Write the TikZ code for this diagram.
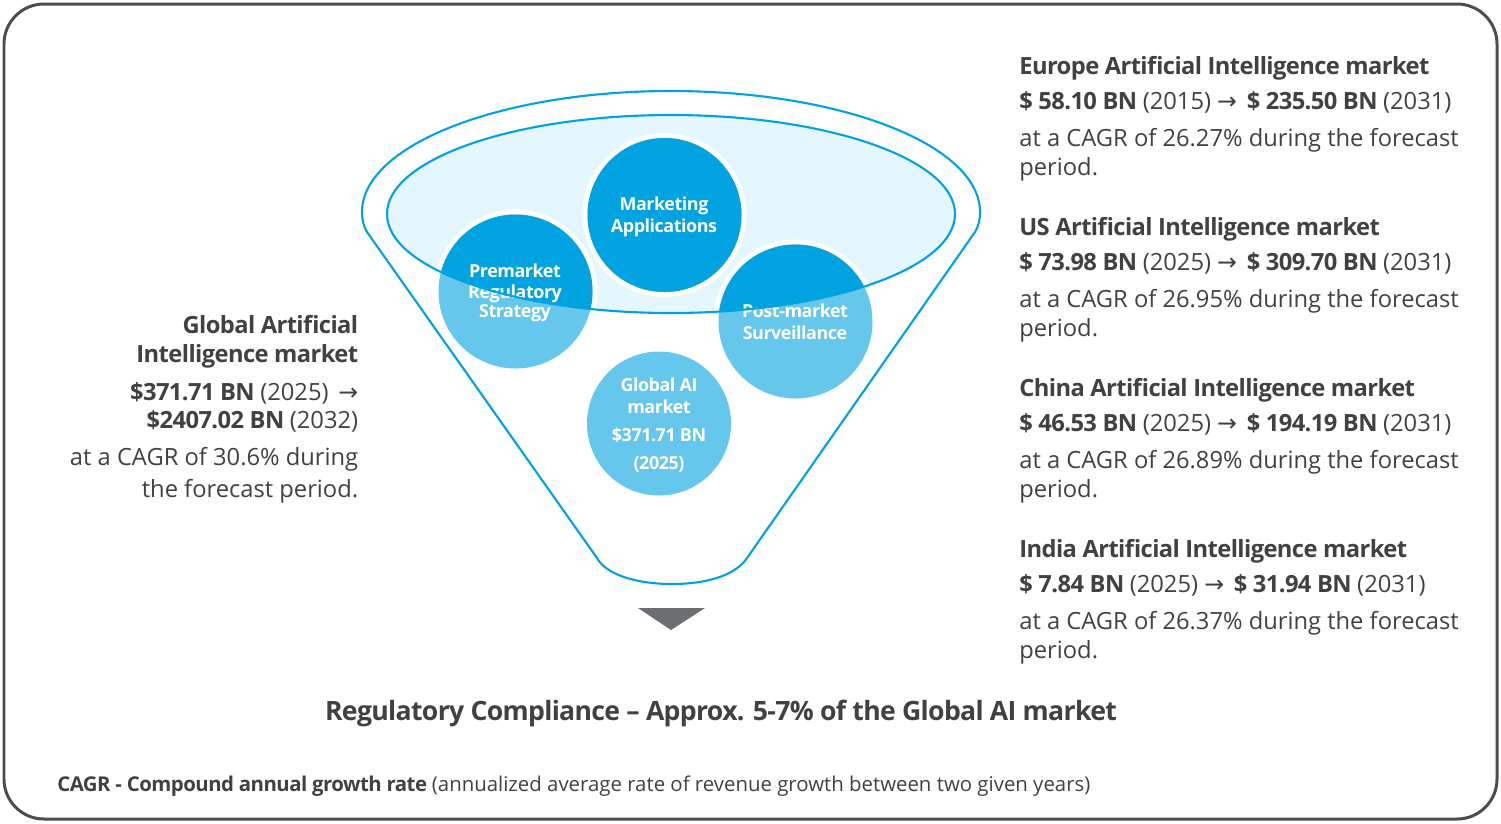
\documentclass[tikz,border=0pt]{standalone}
\usepackage{fontspec}
\setmainfont{Open Sans}[BoldFeatures={LetterSpace=-2.5}]
\newfontfamily\arrowfont{DejaVu Sans}
\usetikzlibrary{calc}
\usetikzlibrary{math}
\definecolor{FunnelBlue}{HTML}{00A3E0}
\definecolor{FunnelLight}{HTML}{66C7EC}
\definecolor{FunnelPale}{HTML}{E5F7FE}
\definecolor{TextGray}{HTML}{414042}
\definecolor{FrameGray}{HTML}{4D4D4F}
\definecolor{TipGray}{HTML}{6D6E71}
\newcommand{\goesto}{{\arrowfont\symbol{"2192}}}
\tikzset{
  rightline/.style={anchor=base west, inner sep=0pt, text=TextGray, font=\fontsize{13.5}{15}\selectfont},
  leftline/.style={anchor=base east, inner sep=0pt, text=TextGray, font=\fontsize{13.5}{15}\selectfont},
  circletext/.style={anchor=base, inner sep=0pt, text=white, font=\fontsize{10.2}{12}\selectfont\bfseries},
}
\begin{document}
\begin{tikzpicture}[x=0.02cm, y=-0.02cm]
    \tikzmath {
        \ringR = 82;
        \circR = 77;
        \globalR = 72;
        \dBase = 161;
    }
    \useasboundingbox (0,0) rectangle (1501,823);

    \coordinate (marketing_c) at (664.5,215);
    \coordinate (premarket_c) at (515.5,291.5);
    \coordinate (postmarket_c) at (795.5,321.5);
    \coordinate (global_c) at (659,423.5);
    \coordinate (bowl_c) at (671,214);

    \draw[FrameGray, line width=1.7pt, rounded corners=0.8cm] (4,4) rectangle (1497,819);

    % funnel outline
    \draw[FunnelBlue, line width=1.2pt] (367,232) .. controls (363,225) and (362,219) .. (362,212)
        arc[start angle=180, end angle=360, x radius=309, y radius=121]
        .. controls (980,219) and (979,225) .. (975,232)
        -- (747,558) .. controls (735,576) and (705,584) .. (672,584)
        .. controls (640,584) and (607,576) .. (597,558) -- cycle;

    \fill[FunnelPale] (bowl_c) ellipse[x radius=284, y radius=99];

    \foreach \c in {marketing_c, premarket_c, postmarket_c}
    {
        \fill[white] (\c) circle[radius=\ringR];
        \fill[FunnelLight] (\c) circle[radius=\circR];
    }
    \begin{scope}
        \clip (bowl_c) ellipse[x radius=284, y radius=99];
        \foreach \c in {marketing_c, premarket_c, postmarket_c}
        {
            \fill[FunnelBlue] (\c) circle[radius=\circR];
        }
    \end{scope}
    \fill[FunnelLight] (global_c) circle[radius=\globalR];

    \node[circletext] (marketing_a) at (664,210) {Marketing};
    \node[circletext] (marketing_b) at (664,232) {Applications};
    \node[circletext] (premarket_a) at (515,277) {Premarket};
    \node[circletext] (premarket_b) at (515,298) {Regulatory};
    \node[circletext] (premarket_d) at (515,317) {Strategy};
    \node[circletext] (postmarket_a) at (795,317) {Post-market};
    \node[circletext] (postmarket_b) at (795,339) {Surveillance};
    \node[circletext] (global_a) at (659,391) {Global AI};
    \node[circletext] (global_b) at (659,413) {market};
    \node[circletext] (global_d) at (659,441) {\$371.71 BN};
    \node[circletext] (global_e) at (659,469) {(2025)};

    \draw[FunnelBlue, line width=1.2pt] (bowl_c) ellipse[x radius=284, y radius=99];

    \fill[TipGray] (638,608) -- (705,608) -- (671,630) -- cycle;

    % left column
    \node[leftline] (left_a) at (358.5,333) {\bfseries Global Artificial};
    \node[leftline] (left_b) at (358.5,362) {\bfseries Intelligence market};
    \node[leftline] (left_c) at (358.5,400) {\textbf{\$371.71 BN} (2025)\hspace{2pt} \goesto};
    \node[leftline] (left_d) at (358.5,428) {\textbf{\$2407.02 BN} (2032)};
    \node[leftline] (left_e) at (358.5,465.5) {at a CAGR of 30.6\% during};
    \node[leftline] (left_f) at (358.5,497) {the forecast period.};

    % right column
    \foreach \i/\region/\valA/\yrA/\valB/\yrB/\cagr in {
        0/Europe/58.10/2015/235.50/2031/26.27,
        1/US/73.98/2025/309.70/2031/26.95,
        2/China/46.53/2025/194.19/2031/26.89,
        3/India/7.84/2025/31.94/2031/26.37}
    {
        \coordinate (right_top) at ($(1019,74) + (0,\dBase * \i)$);
        \node[rightline] (right_a\i) at (right_top) {\bfseries \region{} Artificial Intelligence market};
        \node[rightline] (right_b\i) at ($(right_top) + (0,35)$) {\textbf{\$ \valA{} BN} (\yrA) \goesto\hspace{2pt} \textbf{\$ \valB{} BN} (\yrB)};
        \node[rightline] (right_c\i) at ($(right_top) + (0,72.5)$) {at a CAGR of \cagr\% during the forecast};
        \node[rightline] (right_d\i) at ($(right_top) + (0,101)$) {period.};
    }

    \node[anchor=base, inner sep=0pt, text=TextGray, font=\fontsize{15.15}{18}\selectfont\bfseries] (title) at (721,720.5)
        {Regulatory Compliance -- Approx. 5-7\% of the Global AI market};
    \node[anchor=base west, inner sep=0pt, text=TextGray, font=\fontsize{11.6}{14}\selectfont] (footer) at (57,791.5)
        {\textbf{CAGR - Compound annual growth rate} (annualized average rate of revenue growth between two given years)};
\end{tikzpicture}
\end{document}
